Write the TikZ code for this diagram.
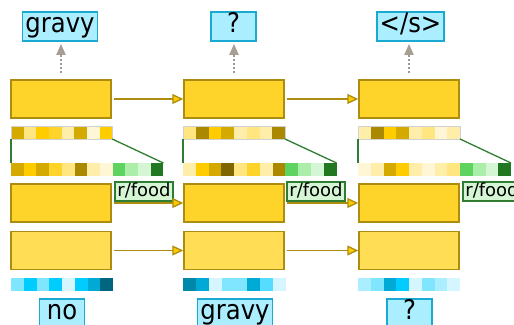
\documentclass[tikz,border=0pt]{standalone}
\usepackage{fontspec}
\setmainfont{DejaVu Sans}
\newfontfamily\wordfont{DejaVu Sans}[FakeStretch=0.9]
\usetikzlibrary{arrows.meta}

% palette
\definecolor{goldline}{HTML}{AD8D0F}
\definecolor{hidfill}{HTML}{FFD42A}
\definecolor{embfill}{HTML}{FFDD55}
\definecolor{wordfill}{HTML}{AAEEFF}
\definecolor{wordline}{HTML}{1AA9D0}
\definecolor{tagfill}{HTML}{D5F6D5}
\definecolor{tagline}{HTML}{2E7D32}
\definecolor{dotgray}{HTML}{9A9A9A}
\definecolor{tipgray}{HTML}{A89F94}
\definecolor{tipyellow}{HTML}{FFCC00}
% cell shades
\definecolor{y1}{HTML}{D4AA00}\definecolor{y2}{HTML}{FFE680}
\definecolor{y3}{HTML}{FFCC00}\definecolor{y4}{HTML}{FFD42A}
\definecolor{y5}{HTML}{FFEEAA}\definecolor{y6}{HTML}{AA8800}
\definecolor{y7}{HTML}{FFF6D5}\definecolor{y8}{HTML}{806600}
\definecolor{g1}{HTML}{5FD35F}\definecolor{g2}{HTML}{AAEEAA}
\definecolor{g3}{HTML}{D5F6D5}\definecolor{g4}{HTML}{217821}
\definecolor{b1}{HTML}{80E5FF}\definecolor{b2}{HTML}{00CCFF}
\definecolor{b3}{HTML}{D5F6FF}\definecolor{b4}{HTML}{00AAD4}
\definecolor{b5}{HTML}{006680}\definecolor{b6}{HTML}{0088AA}
\definecolor{b7}{HTML}{55DDFF}\definecolor{b8}{HTML}{AAEEFF}

% a row of coloured cells: left, top, cell width, height, colours
\newcommand{\cellrow}[5]{%
  \foreach \c [count=\i from 0] in {#5}
    \fill[\c] ({#1+\i*#3},#2) rectangle ++(#3,#4);}

\tikzset{
  hidbox/.style={draw=goldline, fill=hidfill, line width=1.5pt,
    minimum width=100pt, minimum height=38pt, inner sep=0pt},
  embbox/.style={hidbox, fill=embfill},
  wordbox/.style={draw=wordline, fill=wordfill, line width=1.7pt,
    minimum height=29pt, minimum width=45pt, inner xsep=3pt, inner ysep=0pt,
    text height=17pt, text depth=6pt,
    font=\wordfont\fontsize{27}{29}\selectfont},
  tagbox/.style={draw=tagline, fill=tagfill, line width=1.7pt,
    minimum height=19pt, minimum width=58pt, inner sep=0pt,
    text height=13pt, text depth=4pt,
    font=\fontsize{18}{20}\selectfont},
  flow/.style={draw=goldline, line width=1.3pt,
    -{Triangle[length=11pt,width=10pt,fill=tipyellow]}},
  emit/.style={draw=dotgray, line width=2pt, dash pattern=on 2pt off 2pt,
    -{Triangle[length=11pt,width=9pt,color=tipgray,fill=tipgray]}},
  cellrim/.style={draw=black!18, line width=0.7pt},
  zoomline/.style={draw=tagline, line width=1.3pt},
}

\begin{document}
\begin{tikzpicture}[x=1pt, y=-1pt]
\useasboundingbox (0,0) rectangle (514,324);

% ---- column 1 ----
\node[hidbox] (t1) at (61,99) {};
\node[hidbox] (m1) at (61,203) {};
\node[embbox] (e1) at (61,250.5) {};
\node[wordbox] (o1) at (60,26.5) {gravy};
\node[wordbox] (i1) at (62,313.5) {no};
\node[tagbox] (r1) at (144,191.5) {r/food};

\cellrow{11}{126}{12.65}{13}{y1,y2,y3,y4,y5,y1,y7,y3}
\draw[cellrim] (11,126) rectangle ++(101.2,13);
\cellrow{11}{163}{12.7}{13}{y1,y3,y1,y4,y2,y6,y5,y7,g1,g2,g3,g4}
\cellrow{11}{278}{12.75}{13}{b1,b2,b1,b2,b3,b2,b4,b5}
\coordinate (a1) at (11,139);   \coordinate (a2) at (11,163);
\coordinate (a3) at (112.2,139); \coordinate (a4) at (163.4,163);
\draw[zoomline] (a1) -- (a2);
\draw[zoomline] (a3) -- (a4);

% ---- column 2 ----
\node[hidbox] (t2) at (234,99) {};
\node[hidbox] (m2) at (234,203) {};
\node[embbox] (e2) at (234,250.5) {};
\node[wordbox] (o2) at (233.5,26.5) {?};
\node[wordbox] (i2) at (235,313.5) {gravy};
\node[tagbox] (r2) at (316,191.5) {r/food};

\cellrow{183}{126}{12.75}{13}{y2,y6,y3,y1,y5,y2,y5,y6}
\draw[cellrim] (183,126) rectangle ++(102,13);
\cellrow{183}{163}{12.8}{13}{y5,y3,y1,y8,y2,y4,y5,y6,g1,g2,g3,g4}
\cellrow{183}{278}{12.85}{13}{b6,b4,b3,b1,b1,b4,b7,b3}
\coordinate (c1) at (183,139);   \coordinate (c2) at (183,163);
\coordinate (c3) at (285,139);   \coordinate (c4) at (336.6,163);
\draw[zoomline] (c1) -- (c2);
\draw[zoomline] (c3) -- (c4);

% ---- column 3 ----
\node[hidbox] (t3) at (409,99) {};
\node[hidbox] (m3) at (409,203) {};
\node[embbox] (e3) at (409,250.5) {};
\node[wordbox] (o3) at (410.5,26.5) {</s>};
\node[wordbox] (i3) at (409.5,313.5) {?};
\node[tagbox] (r3) at (492,191.5) {r/food};

\cellrow{358}{126}{12.75}{13}{y5,y6,y3,y1,y5,y2,y7,y5}
\draw[cellrim] (358,126) rectangle ++(102,13);
\cellrow{358}{163}{12.75}{13}{y7,y5,y1,y3,y5,y7,y5,y2,g1,g2,g3,g4}
\cellrow{358}{278}{12.75}{13}{b8,b1,b4,b2,b3,b1,b8,b3}
\coordinate (d1) at (358,139);   \coordinate (d2) at (358,163);
\coordinate (d3) at (460,139);   \coordinate (d4) at (511,163);
\draw[zoomline] (d1) -- (d2);
\draw[zoomline] (d3) -- (d4);

% ---- recurrent links ----
\draw[flow, shorten <=2pt] (t1.east) -- (t2.west);
\draw[flow, shorten <=2pt] (t2.east) -- (t3.west);
\draw[flow, shorten <=2pt] (m1.east) -- (m2.west);
\draw[flow, shorten <=2pt] (m2.east) -- (m3.west);
\draw[flow, shorten <=2pt] (e1.east) -- (e2.west);
\draw[flow, shorten <=2pt] (e2.east) -- (e3.west);

% ---- emitted words ----
\draw[emit, shorten <=6pt, shorten >=2pt] (t1.north) -- (t1.north |- o1.south);
\draw[emit, shorten <=6pt, shorten >=2pt] (t2.north) -- (t2.north |- o2.south);
\draw[emit, shorten <=6pt, shorten >=2pt] (t3.north) -- (t3.north |- o3.south);
\end{tikzpicture}
\end{document}
